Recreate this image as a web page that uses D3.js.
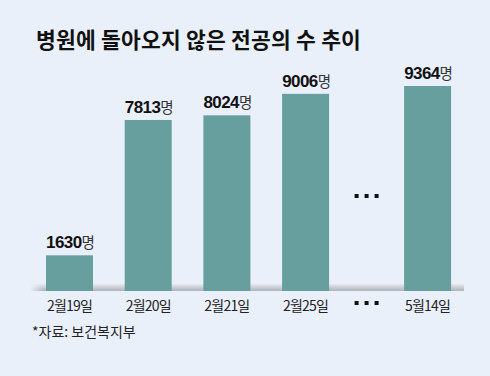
<!DOCTYPE html>
<html>
<head>
<meta charset="utf-8">
<script src="https://cdn.jsdelivr.net/npm/d3@7"></script>
<style>
  html, body { margin: 0; padding: 0; background: #eaf0fa; }
  svg { display: block; }
</style>
</head>
<body>
<div id="chart"></div>
<script>
// 데이터
const categories = ["2월19일", "2월20일", "2월21일", "2월25일", "5월14일"];
const values = [1630, 7813, 8024, 9006, 9364];
const unit = "명";
const title = "병원에 돌아오지 않은 전공의 수 추이";
const source = "*자료: 보건복지부";

const width = 490;
const height = 376;
const baseY = 291;

const svg = d3.select("#chart")
    .append("svg")
    .attr("width", width)
    .attr("height", height);

svg.append("rect")
    .attr("width", width)
    .attr("height", height)
    .attr("fill", "#eaf0fa");

// 제목
svg.append("text")
    .attr("x", 36)
    .attr("y", 48)
    .text(title)
    .style("font-family", "'Noto Sans CJK KR', sans-serif")
    .style("font-weight", 700)
    .style("font-size", "21.5px")
    .style("letter-spacing", "0.2px")
    .attr("fill", "#111");

// 막대 위치: 2월25일과 5월14일 사이에 생략 구간
const slot = (d, i) => i + (i >= 4 ? 0.55 : 0);
const x = d3.scaleLinear().domain([0, 1]).range([46, 124.7]);
const barW = 47;
const y = d3.scaleLinear().domain([0, 9364]).range([baseY, 86]);

// 바닥 선 (그라데이션)
const defs = svg.append("defs");
const grad = defs.append("linearGradient")
    .attr("id", "base-grad")
    .attr("x1", 0).attr("y1", 0).attr("x2", 0).attr("y2", 1);
grad.append("stop").attr("offset", "0%").attr("stop-color", "#e6e9ee");
grad.append("stop").attr("offset", "100%").attr("stop-color", "#aeb2ba");

const fade = defs.append("linearGradient")
    .attr("id", "base-fade")
    .attr("x1", 0).attr("y1", 0).attr("x2", 1).attr("y2", 0);
fade.append("stop").attr("offset", "0%").attr("stop-color", "#fff").attr("stop-opacity", 0);
fade.append("stop").attr("offset", "3%").attr("stop-color", "#fff").attr("stop-opacity", 1);
fade.append("stop").attr("offset", "100%").attr("stop-color", "#fff").attr("stop-opacity", 1);
const mask = defs.append("mask").attr("id", "base-mask");
mask.append("rect")
    .attr("x", 30).attr("y", baseY - 7).attr("width", 434).attr("height", 7)
    .attr("fill", "url(#base-fade)");

svg.append("rect")
    .attr("x", 30)
    .attr("y", baseY - 7)
    .attr("width", 434)
    .attr("height", 7)
    .attr("fill", "url(#base-grad)")
    .attr("mask", "url(#base-mask)");

// 막대
svg.selectAll("rect.bar")
    .data(values)
    .enter()
    .append("rect")
    .attr("class", "bar")
    .attr("x", (d, i) => x(slot(d, i)))
    .attr("y", d => y(d))
    .attr("width", barW)
    .attr("height", d => baseY - y(d))
    .attr("fill", "#679e9e");

// 값 레이블
const labels = svg.selectAll("text.val")
    .data(values)
    .enter()
    .append("text")
    .attr("class", "val")
    .attr("x", (d, i) => x(slot(d, i)) + barW / 2 + 1)
    .attr("y", d => y(d) - 7)
    .attr("text-anchor", "middle");

labels.append("tspan")
    .text(d => d)
    .style("font-family", "'Liberation Sans Narrow', 'Liberation Sans', Arial, sans-serif")
    .style("font-weight", 700)
    .style("font-size", "17px")
    .style("letter-spacing", "-0.6px")
    .attr("fill", "#111");

labels.append("tspan")
    .text(unit)
    .style("font-family", "'Noto Sans CJK KR', sans-serif")
    .style("font-weight", 400)
    .style("font-size", "14.5px")
    .attr("fill", "#333");

// x축 레이블
svg.selectAll("text.cat")
    .data(categories)
    .enter()
    .append("text")
    .attr("class", "cat")
    .attr("x", (d, i) => x(slot(d, i)) + barW / 2)
    .attr("y", 311)
    .attr("text-anchor", "middle")
    .text(d => d)
    .style("font-family", "'Noto Sans CJK KR', sans-serif")
    .style("font-size", "14px")
    .style("letter-spacing", "-0.8px")
    .attr("fill", "#222");

// 생략 표시
const gapX = (x(slot(null, 3)) + barW + x(slot(null, 4))) / 2;
[196, 303].forEach(cy => {
    svg.selectAll(null)
        .data([-10, 0, 10])
        .enter()
        .append("rect")
        .attr("x", d => gapX + d - 2)
        .attr("y", cy - 2)
        .attr("width", 4)
        .attr("height", 4)
        .attr("fill", "#111");
});

// 출처
svg.append("text")
    .attr("x", 32)
    .attr("y", 337)
    .text(source)
    .style("font-family", "'Noto Sans CJK KR', sans-serif")
    .style("font-size", "14px")
    .attr("fill", "#222");
</script>
</body>
</html>
